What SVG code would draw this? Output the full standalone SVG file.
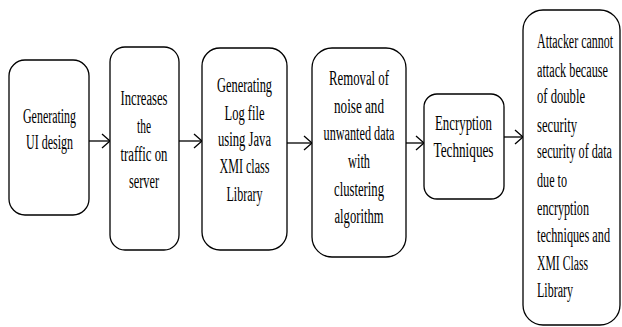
<svg xmlns="http://www.w3.org/2000/svg" width="622" height="327" viewBox="0 0 622 327">
<style>
.box{fill:#fff;stroke:#000;stroke-width:1.3}
.t{font-family:"Liberation Serif","Times New Roman",serif;font-size:20px;fill:#000}
.c{text-anchor:middle}
.ln{fill:none;stroke:#000;stroke-width:1.3}
</style>
<defs>
<marker id="ah" markerWidth="12" markerHeight="16" refX="9" refY="8" orient="auto" markerUnits="userSpaceOnUse">
<path d="M1,1 L9,8 L1,15" fill="none" stroke="#000" stroke-width="1.3"/>
</marker>
</defs>
<rect width="622" height="327" fill="#fff"/>
<g id="connectors">
<line class="ln" x1="89" y1="141" x2="110" y2="141" marker-end="url(#ah)"/>
<line class="ln" x1="179" y1="141" x2="202" y2="141" marker-end="url(#ah)"/>
<line class="ln" x1="287" y1="143" x2="312" y2="143" marker-end="url(#ah)"/>
<line class="ln" x1="406" y1="143" x2="424" y2="143" marker-end="url(#ah)"/>
<line class="ln" x1="504" y1="137" x2="523" y2="137" marker-end="url(#ah)"/>
</g>
<g id="n1">
<rect class="box" x="9" y="60" width="80" height="155" rx="16"/>
<g transform="translate(49.5 0) scale(0.6 1)">
<text class="t c" x="0" y="123" textLength="88.3" lengthAdjust="spacingAndGlyphs">Generating</text>
<text class="t c" x="0" y="149" textLength="78.3" lengthAdjust="spacingAndGlyphs">UI design</text>
</g>
</g>
<g id="n2">
<rect class="box" x="110" y="47" width="69" height="203" rx="15"/>
<g transform="translate(144 0) scale(0.6 1)">
<text class="t c" x="0" y="105" textLength="78.3" lengthAdjust="spacingAndGlyphs">Increases</text>
<text class="t c" x="0" y="133" textLength="23.3" lengthAdjust="spacingAndGlyphs">the</text>
<text class="t c" x="0" y="161" textLength="78.3" lengthAdjust="spacingAndGlyphs">traffic on</text>
<text class="t c" x="0" y="188" textLength="50" lengthAdjust="spacingAndGlyphs">server</text>
</g>
</g>
<g id="n3">
<rect class="box" x="202" y="48" width="85" height="202" rx="18"/>
<g transform="translate(244.5 0) scale(0.6 1)">
<text class="t c" x="0" y="92" textLength="91.7" lengthAdjust="spacingAndGlyphs">Generating</text>
<text class="t c" x="0" y="120" textLength="66.7" lengthAdjust="spacingAndGlyphs">Log file</text>
<text class="t c" x="0" y="146" textLength="88.3" lengthAdjust="spacingAndGlyphs">using Java</text>
<text class="t c" x="0" y="173" textLength="83.3" lengthAdjust="spacingAndGlyphs">XMI class</text>
<text class="t c" x="0" y="201" textLength="60" lengthAdjust="spacingAndGlyphs">Library</text>
</g>
</g>
<g id="n4">
<rect class="box" x="312" y="48" width="94" height="209" rx="20"/>
<g transform="translate(359 0) scale(0.6 1)">
<text class="t c" x="0" y="85" textLength="100" lengthAdjust="spacingAndGlyphs">Removal of</text>
<text class="t c" x="0" y="113" textLength="83.3" lengthAdjust="spacingAndGlyphs">noise and</text>
<text class="t c" x="0" y="140" textLength="118.3" lengthAdjust="spacingAndGlyphs">unwanted data</text>
<text class="t c" x="0" y="168" textLength="36.7" lengthAdjust="spacingAndGlyphs">with</text>
<text class="t c" x="0" y="196" textLength="83.3" lengthAdjust="spacingAndGlyphs">clustering</text>
<text class="t c" x="0" y="223" textLength="81.7" lengthAdjust="spacingAndGlyphs">algorithm</text>
</g>
</g>
<g id="n5">
<rect class="box" x="424" y="94" width="80" height="105" rx="13"/>
<g transform="translate(463.5 0) scale(0.6 1)">
<text class="t c" x="0" y="130" textLength="95" lengthAdjust="spacingAndGlyphs">Encryption</text>
<text class="t c" x="0" y="157" textLength="100" lengthAdjust="spacingAndGlyphs">Techniques</text>
</g>
</g>
<g id="n6">
<rect class="box" x="523" y="10" width="97" height="315" rx="20"/>
<g transform="translate(537 0) scale(0.6 1)">
<text class="t" x="0" y="48" textLength="126.7" lengthAdjust="spacingAndGlyphs">Attacker cannot</text>
<text class="t" x="0" y="77" textLength="118.3" lengthAdjust="spacingAndGlyphs">attack because</text>
<text class="t" x="0" y="103" textLength="80" lengthAdjust="spacingAndGlyphs">of double</text>
<text class="t" x="0" y="132" textLength="66.7" lengthAdjust="spacingAndGlyphs">security</text>
<text class="t" x="0" y="158" textLength="125" lengthAdjust="spacingAndGlyphs">security of data</text>
<text class="t" x="0" y="187" textLength="50" lengthAdjust="spacingAndGlyphs">due to</text>
<text class="t" x="0" y="215" textLength="86.7" lengthAdjust="spacingAndGlyphs">encryption</text>
<text class="t" x="0" y="242" textLength="121.7" lengthAdjust="spacingAndGlyphs">techniques and</text>
<text class="t" x="0" y="270" textLength="85" lengthAdjust="spacingAndGlyphs">XMI Class</text>
<text class="t" x="0" y="297" textLength="60" lengthAdjust="spacingAndGlyphs">Library</text>
</g>
</g>
</svg>
